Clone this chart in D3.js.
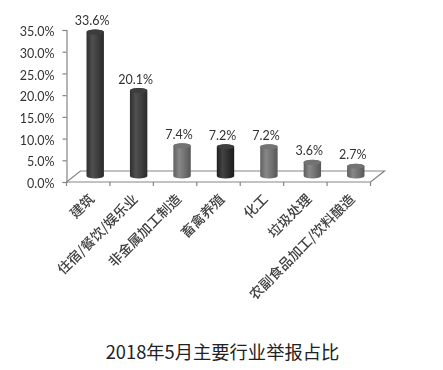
<!DOCTYPE html>
<html>
<head>
<meta charset="utf-8">
<script src="https://cdn.jsdelivr.net/npm/d3@7"></script>
<style>
    html, body { margin: 0; padding: 0; background: #fff; }
    svg { display: block; }
    .tick-label { font-family: Lato, sans-serif; font-size: 12.5px; fill: #333; }
    .value-label { font-family: Lato, sans-serif; font-size: 12.5px; fill: #333; }
    .cat-label { font-family: "Noto Sans CJK SC", sans-serif; font-size: 13.7px; font-weight: 500; fill: #404040; }
    .title { font-family: "Noto Sans CJK SC", sans-serif; font-size: 18.3px; fill: #222; }
</style>
</head>
<body>
<svg id="chart" width="443" height="370"></svg>
<script>
const categories = ['建筑', '住宿/餐饮/娱乐业', '非金属加工制造', '畜禽养殖', '化工', '垃圾处理', '农副食品加工/饮料酿造'];
const shares = [33.6, 20.1, 7.4, 7.2, 7.2, 3.6, 2.7];
const shades = ['dark', 'dark', 'mid', 'black', 'mid', 'mid', 'mid'];
const yTicks = [0, 5, 10, 15, 20, 25, 30, 35];
const chartTitle = '2018年5月主要行业举报占比';

const svg = d3.select('#chart');

const x = d3.scaleBand().domain(categories).range([66.5, 370.5]);
const y = d3.scaleLinear().domain([0, 35]).range([182, 30]);

// floor depth of the fake 3d plot
const depthX = 14, depthY = 11;
const barBase = 4;  // bars stand a little behind the front edge
const barRx = 8.7, barRy = 2.6;

const defs = svg.append('defs');
const gradients = {
    dark: ['#2e2e2e', '#505050', '#3d3d3d', '#2a2a2a'],
    black: ['#1e1e1e', '#444444', '#2e2e2e', '#1c1c1c'],
    mid: ['#5e5e5e', '#888888', '#707070', '#565656']
};
Object.entries(gradients).forEach(([name, stops]) => {
    const g = defs.append('linearGradient').attr('id', 'bar-' + name);
    stops.forEach((c, i) => {
        g.append('stop').attr('offset', i / (stops.length - 1)).attr('stop-color', c);
    });
});
defs.append('filter').attr('id', 'soft')
    .append('feGaussianBlur').attr('stdDeviation', 0.35);

const plot = svg.append('g').attr('filter', 'url(#soft)');

// floor outline
const axisColor = '#858585';
const floor = d3.path();
floor.moveTo(x.range()[0], y(0));
floor.lineTo(x.range()[0] + depthX, y(0) - depthY);
floor.lineTo(x.range()[1] + depthX, y(0) - depthY);
floor.lineTo(x.range()[1], y(0));
plot.append('path').attr('d', floor.toString())
    .attr('fill', 'none').attr('stroke', axisColor).attr('stroke-width', 1.2);

// y axis
const yAxis = plot.append('g')
    .attr('transform', `translate(${x.range()[0]},0)`)
    .call(d3.axisLeft(y).tickValues(yTicks).tickFormat(d => d.toFixed(1) + '%').tickSize(4).tickPadding(8));
yAxis.selectAll('path, line').attr('stroke', axisColor).attr('stroke-width', 1.2);
yAxis.selectAll('text').attr('class', 'tick-label').attr('fill', null).attr('dy', '.45em');
yAxis.attr('font-family', null).attr('font-size', null);

// x axis, ticks sit on the band edges
const xAxis = plot.append('g')
    .attr('transform', `translate(0,${y(0)})`);
xAxis.append('line')
    .attr('x1', x.range()[0]).attr('x2', x.range()[1])
    .attr('stroke', axisColor).attr('stroke-width', 1.2);
const edges = categories.map(c => x(c)).concat(x.range()[1]);
xAxis.selectAll('line.edge')
    .data(edges)
    .join('line')
    .attr('class', 'edge')
    .attr('x1', d => d).attr('x2', d => d)
    .attr('y1', 0).attr('y2', 4)
    .attr('stroke', axisColor).attr('stroke-width', 1.2);

// cylinders
const barCenter = d => x(d) + x.bandwidth() / 2 + 7;
const bars = plot.selectAll('g.bar')
    .data(categories.map((c, i) => ({ name: c, value: shares[i], shade: shades[i] })))
    .join('g')
    .attr('class', 'bar');

bars.append('path')
    .attr('d', d => {
        const cx = barCenter(d.name);
        const top = y(d.value) - barBase;
        const bottom = y(0) - barBase - 2;
        return `M${cx - barRx},${top}L${cx - barRx},${bottom}`
            + `A${barRx},${barRy} 0 0 0 ${cx + barRx},${bottom}`
            + `L${cx + barRx},${top}`
            + `A${barRx},${barRy} 0 0 0 ${cx - barRx},${top}Z`;
    })
    .attr('fill', d => `url(#bar-${d.shade})`);

bars.append('ellipse')
    .attr('cx', d => barCenter(d.name))
    .attr('cy', d => y(d.value) - barBase)
    .attr('rx', barRx)
    .attr('ry', barRy)
    .attr('fill', d => d.shade === 'mid' ? '#737373' : '#3c3c3c');

// value labels
plot.selectAll('text.value')
    .data(shares)
    .join('text')
    .attr('class', 'value value-label')
    .attr('x', (d, i) => barCenter(categories[i]) - 3)
    .attr('y', d => y(d) - barBase - 7)
    .attr('text-anchor', 'middle')
    .text(d => d.toFixed(1) + '%');

// category labels, rotated
plot.selectAll('text.cat')
    .data(categories)
    .join('text')
    .attr('class', 'cat cat-label')
    .attr('text-anchor', 'end')
    .attr('transform', d => `translate(${x(d) + x.bandwidth() / 2 + 7},${y(0) + 18}) rotate(-45)`)
    .text(d => d);

svg.append('text')
    .attr('class', 'title')
    .attr('x', 222.5)
    .attr('y', 358.5)
    .attr('text-anchor', 'middle')
    .text(chartTitle);
</script>
</body>
</html>
